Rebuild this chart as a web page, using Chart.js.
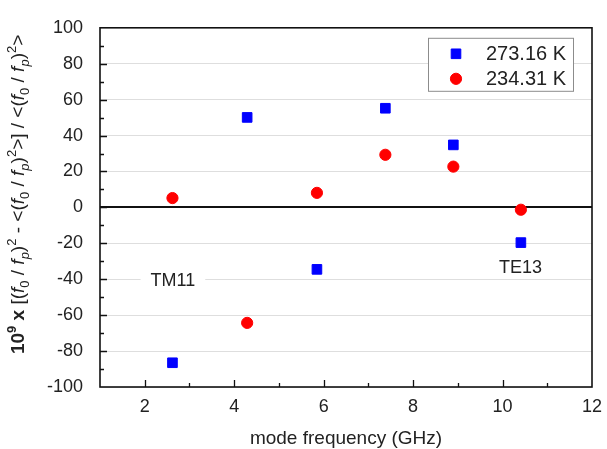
<!DOCTYPE html>
<html>
<head>
<meta charset="utf-8">
<script src="https://cdn.jsdelivr.net/npm/chart.js@4/dist/chart.umd.min.js"></script>
<style>
html, body { margin: 0; padding: 0; background: #fff; }
</style>
</head>
<body>
<canvas id="modeChart" width="607" height="449"></canvas>
<script>
'use strict';

// values
var freqGHz = [2.62, 4.29, 5.85, 7.38, 8.90, 10.41];
var dev273 = [-86.5, 50.1, -34.5, 55.2, 34.8, -19.6];
var dev234 = [5.2, -64.3, 8.1, 29.3, 22.7, -1.3];
var seriesLabels = ['273.16 K', '234.31 K'];
var xTicks = [2, 4, 6, 8, 10, 12];
var yTicks = [-100, -80, -60, -40, -20, 0, 20, 40, 60, 80, 100];
var modeNames = ['TM11', 'TE13'];
var modeX = [2.63, 10.4];
var modeY = [-41.2, -33.8];

var FONT = "'Liberation Sans', Arial, sans-serif";

function toPoints(xs, ys) {
	var pts = [];
	for (var i = 0; i < xs.length; i++) {
		pts.push({x: xs[i], y: ys[i]});
	}
	return pts;
}

// y axis title has bold / italic / sub / sup parts, so draw it by hand
var yTitleParts = [
	['10', 'b'], ['9', 'bsup'], [' x ', 'b'], ['[(', 'n'],
	['f', 'i'], ['0', 'sub'], [' / ', 'n'], ['f', 'i'], ['p', 'isub'], [')', 'n'], ['2', 'sup'],
	[' - <(', 'n'], ['f', 'i'], ['0', 'sub'], [' / ', 'n'], ['f', 'i'], ['p', 'isub'], [')', 'n'], ['2', 'sup'],
	['>] / <(', 'n'], ['f', 'i'], ['0', 'sub'], [' / ', 'n'], ['f', 'i'], ['p', 'isub'], [')', 'n'], ['2', 'sup'], ['>', 'n']
];

function partFont(style) {
	var size = (style.indexOf('sup') >= 0 || style.indexOf('sub') >= 0) ? 13 : 19;
	var weight = style.charAt(0) === 'b' ? 'bold ' : '';
	var italic = style.indexOf('i') >= 0 ? 'italic ' : '';
	return italic + weight + size + 'px ' + FONT;
}

var chartDecor = {
	id: 'chartDecor',
	beforeDatasetsDraw: function(chart) {
		var ctx = chart.ctx;
		var xs = chart.scales.x, ys = chart.scales.y;
		ctx.save();
		ctx.font = '18px ' + FONT;
		ctx.textAlign = 'center';
		ctx.textBaseline = 'middle';
		for (var i = 0; i < modeNames.length; i++) {
			var px = xs.getPixelForValue(modeX[i]);
			var py = ys.getPixelForValue(modeY[i]);
			var w = ctx.measureText(modeNames[i]).width;
			ctx.fillStyle = '#fff';
			ctx.fillRect(px - w / 2 - 10, py - 6, w + 20, 12);
			ctx.fillStyle = '#222';
			ctx.fillText(modeNames[i], px, py);
		}
		ctx.restore();
	},
	afterDraw: function(chart) {
		var ctx = chart.ctx;
		var area = chart.chartArea;
		var xs = chart.scales.x, ys = chart.scales.y;
		ctx.save();

		// frame
		ctx.strokeStyle = '#111';
		ctx.lineWidth = 1.6;
		ctx.strokeRect(area.left, area.top, area.right - area.left, area.bottom - area.top);

		// inward ticks, major and minor
		ctx.lineWidth = 1.3;
		ctx.beginPath();
		for (var v = -90; v < 100; v += 10) {
			var py = Math.round(ys.getPixelForValue(v)) + 0.5;
			var len = (v % 20 === 0) ? 7 : 4;
			ctx.moveTo(area.left, py);
			ctx.lineTo(area.left + len, py);
		}
		for (var g = 2; g < 12; g++) {
			var px = Math.round(xs.getPixelForValue(g)) + 0.5;
			var l2 = (g % 2 === 0) ? 7 : 4;
			ctx.moveTo(px, area.bottom);
			ctx.lineTo(px, area.bottom - l2);
		}
		ctx.stroke();

		// legend box
		var bx = area.right - 164, by = area.top + 10, bw = 145, bh = 53;
		ctx.fillStyle = '#fff';
		ctx.fillRect(bx, by, bw, bh);
		ctx.strokeStyle = '#8c8c8c';
		ctx.lineWidth = 1;
		ctx.strokeRect(bx + 0.5, by + 0.5, bw, bh);
		ctx.font = '20px ' + FONT;
		ctx.textAlign = 'left';
		ctx.textBaseline = 'middle';
		var ds = chart.data.datasets;
		for (var k = 0; k < ds.length; k++) {
			var ry = by + 16 + k * 25;
			ctx.fillStyle = ds[k].backgroundColor;
			ctx.strokeStyle = ds[k].borderColor;
			Chart.helpers.drawPoint(ctx, {pointStyle: ds[k].pointStyle, radius: ds[k].pointRadius, borderWidth: 1, rotation: 0}, bx + 28, ry);
			ctx.fillStyle = '#222';
			ctx.fillText(seriesLabels[k], bx + 58, ry + 1);
		}

		// rotated y title
		var total = 0;
		yTitleParts.forEach(function(p) {
			ctx.font = partFont(p[1]);
			total += ctx.measureText(p[0]).width;
		});
		ctx.translate(17, (area.top + area.bottom) / 2 - 13);
		ctx.rotate(-Math.PI / 2);
		ctx.fillStyle = '#222';
		ctx.textBaseline = 'alphabetic';
		var cx = -total / 2;
		yTitleParts.forEach(function(p) {
			ctx.font = partFont(p[1]);
			var dy = 7;
			if (p[1].indexOf('sup') >= 0) dy = -1;
			if (p[1].indexOf('sub') >= 0) dy = 12;
			ctx.fillText(p[0], cx, dy);
			cx += ctx.measureText(p[0]).width;
		});
		ctx.restore();
	}
};

var modeConfig = {
	type: 'scatter',
	data: {
		datasets: [{
			label: seriesLabels[0],
			data: toPoints(freqGHz, dev273),
			pointStyle: 'rect',
			pointRadius: 6.8,
			borderWidth: 1,
			backgroundColor: '#0000ff',
			borderColor: '#0000ff'
		}, {
			label: seriesLabels[1],
			data: toPoints(freqGHz, dev234),
			pointStyle: 'circle',
			pointRadius: 5.6,
			borderWidth: 1,
			backgroundColor: '#ff0000',
			borderColor: '#ff0000'
		}]
	},
	options: {
		responsive: false,
		animation: false,
		events: [],
		layout: {
			padding: {top: 25, right: 15, left: 0, bottom: 0}
		},
		plugins: {
			legend: {display: false},
			tooltip: {enabled: false}
		},
		scales: {
			x: {
				type: 'linear',
				min: 1,
				max: 12,
				afterBuildTicks: function(scale) {
					scale.ticks = xTicks.map(function(v) { return {value: v}; });
				},
				afterFit: function(scale) {
					scale.height = 62;
					scale.paddingLeft = 0;
					scale.paddingRight = 0;
				},
				grid: {display: false, drawTicks: false},
				border: {display: false},
				ticks: {
					font: {family: FONT, size: 18},
					color: '#222',
					padding: 9,
					maxRotation: 0
				},
				title: {
					display: true,
					text: 'mode frequency (GHz)',
					font: {family: FONT, size: 19},
					color: '#222',
					padding: {top: 6, bottom: -1}
				}
			},
			y: {
				min: -100,
				max: 100,
				afterBuildTicks: function(scale) {
					scale.ticks = yTicks.map(function(v) { return {value: v}; });
				},
				afterFit: function(scale) { scale.width = 100; },
				grid: {
					drawTicks: false,
					color: function(c) { return c.tick && c.tick.value === 0 ? '#111' : '#dedede'; },
					lineWidth: function(c) { return c.tick && c.tick.value === 0 ? 2 : 1; }
				},
				border: {display: false},
				ticks: {
					font: {family: FONT, size: 18},
					color: '#222',
					padding: 17
				}
			}
		}
	},
	plugins: [chartDecor]
};

var modeChart = new Chart(document.getElementById('modeChart').getContext('2d'), modeConfig);
</script>
</body>
</html>
